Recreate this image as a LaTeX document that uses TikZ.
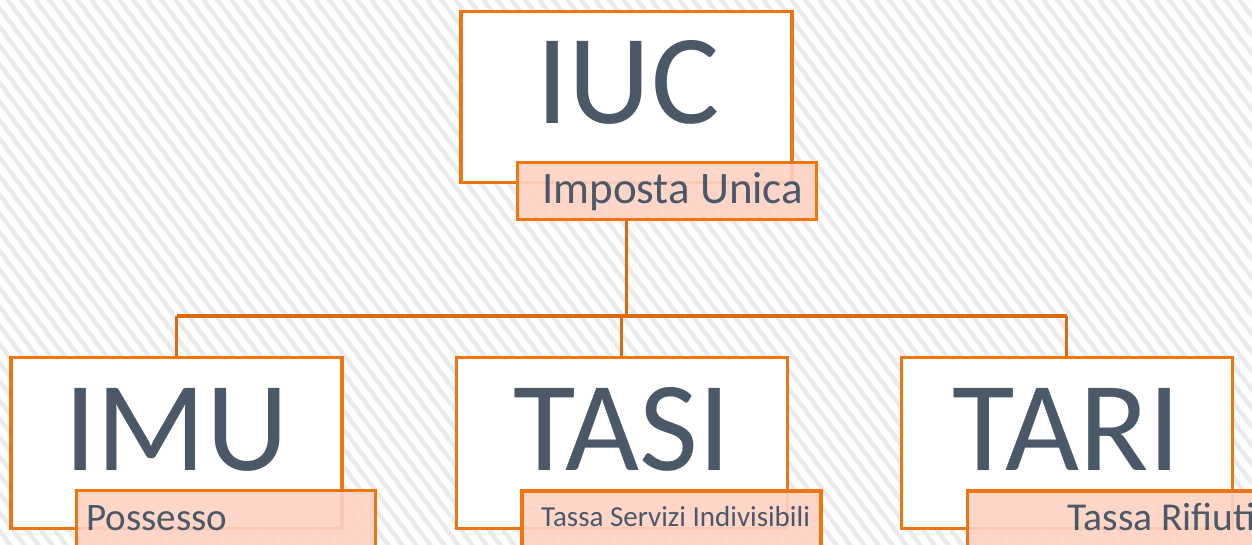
\documentclass[tikz,border=0pt]{standalone}
\usepackage{fontspec}
\setmainfont{Carlito}
\definecolor{boxorange}{HTML}{EF760F}
\definecolor{lineorange}{HTML}{DD6A10}
\definecolor{subfill}{HTML}{FDD2C3}
\definecolor{txt}{HTML}{4A5868}
\definecolor{stripe}{HTML}{EBEBEB}
\tikzset{
  mainbox/.style={draw=boxorange, line width=3.4pt, fill=white, minimum width=331pt, minimum height=171pt, inner sep=0pt, outer sep=0pt},
  subbox/.style={draw=boxorange, line width=3.4pt, fill=subfill, fill opacity=0.9, draw opacity=1, minimum width=299pt, minimum height=57pt, inner sep=0pt, outer sep=0pt},
  bigtext/.style={text=txt, inner sep=0pt, anchor=base, font=\fontsize{128}{130}\selectfont},
  subtext/.style={text=txt, inner sep=0pt, anchor=base west},
  conn/.style={draw=lineorange, line width=3.2pt}
}
\begin{document}
\begin{tikzpicture}[x=1pt,y=-1pt]
\useasboundingbox (0,0) rectangle (1252,545);
\clip (0,0) rectangle (1252,545);
\fill[white] (0,0) rectangle (1252,545);
\foreach \i in {-35,...,95} {
  \draw[stripe, line width=4.5pt] (\i*14,-10) -- ({\i*14+0.75*565},555);
}
% nodes
\node[mainbox] (iuc) at (626.5,97.2) {};
\node[mainbox] (imu) at (176.5,443) {};
\node[mainbox] (tasi) at (621.7,443) {};
\node[mainbox] (tari) at (1066.7,443) {};
\coordinate (bus) at (626.5,316);
% connectors
\draw[conn] (iuc.south |- 0,220) -- (bus);
\draw[conn] (imu.north |- bus) -- (tari.north |- bus);
\draw[conn] (imu.north |- bus) -- (imu.north);
\draw[conn] (tasi.north |- bus) -- (tasi.north);
\draw[conn] (tari.north |- bus) -- (tari.north);
% redraw boxes on top of connectors
\node[mainbox] at (iuc) {};
\node[mainbox] at (imu) {};
\node[mainbox] at (tasi) {};
\node[mainbox] at (tari) {};
\node[subbox] (iucsub) at (666.7,191.3) {};
\node[subbox] (imusub) at (226.2,519.2) {};
\node[subbox] (tasisub) at (671.5,519.5) {};
\node[subbox] (tarisub) at (1116.7,519.5) {};
% texts
\node[bigtext] (iuct) at (628,124) {IUC};
\node[bigtext] (imut) at (176.5,470) {IMU};
\node[bigtext] (tasit) at (622,470) {TASI};
\node[bigtext] (tarit) at (1067,470) {TARI};
\node[subtext, font=\fontsize{45}{47}\selectfont] (iucst) at (542,203.3) {Imposta Unica};
\node[subtext, font=\fontsize{39}{41}\selectfont] (imust) at (86,530) {Possesso};
\node[subtext, font=\fontsize{29}{31}\selectfont] (tasist) at (541,526.7) {Tassa Servizi Indivisibili};
\node[subtext, font=\fontsize{39.5}{41}\selectfont] (tarist) at (1067.5,530.7) {Tassa Rifiuti};
\end{tikzpicture}
\end{document}
